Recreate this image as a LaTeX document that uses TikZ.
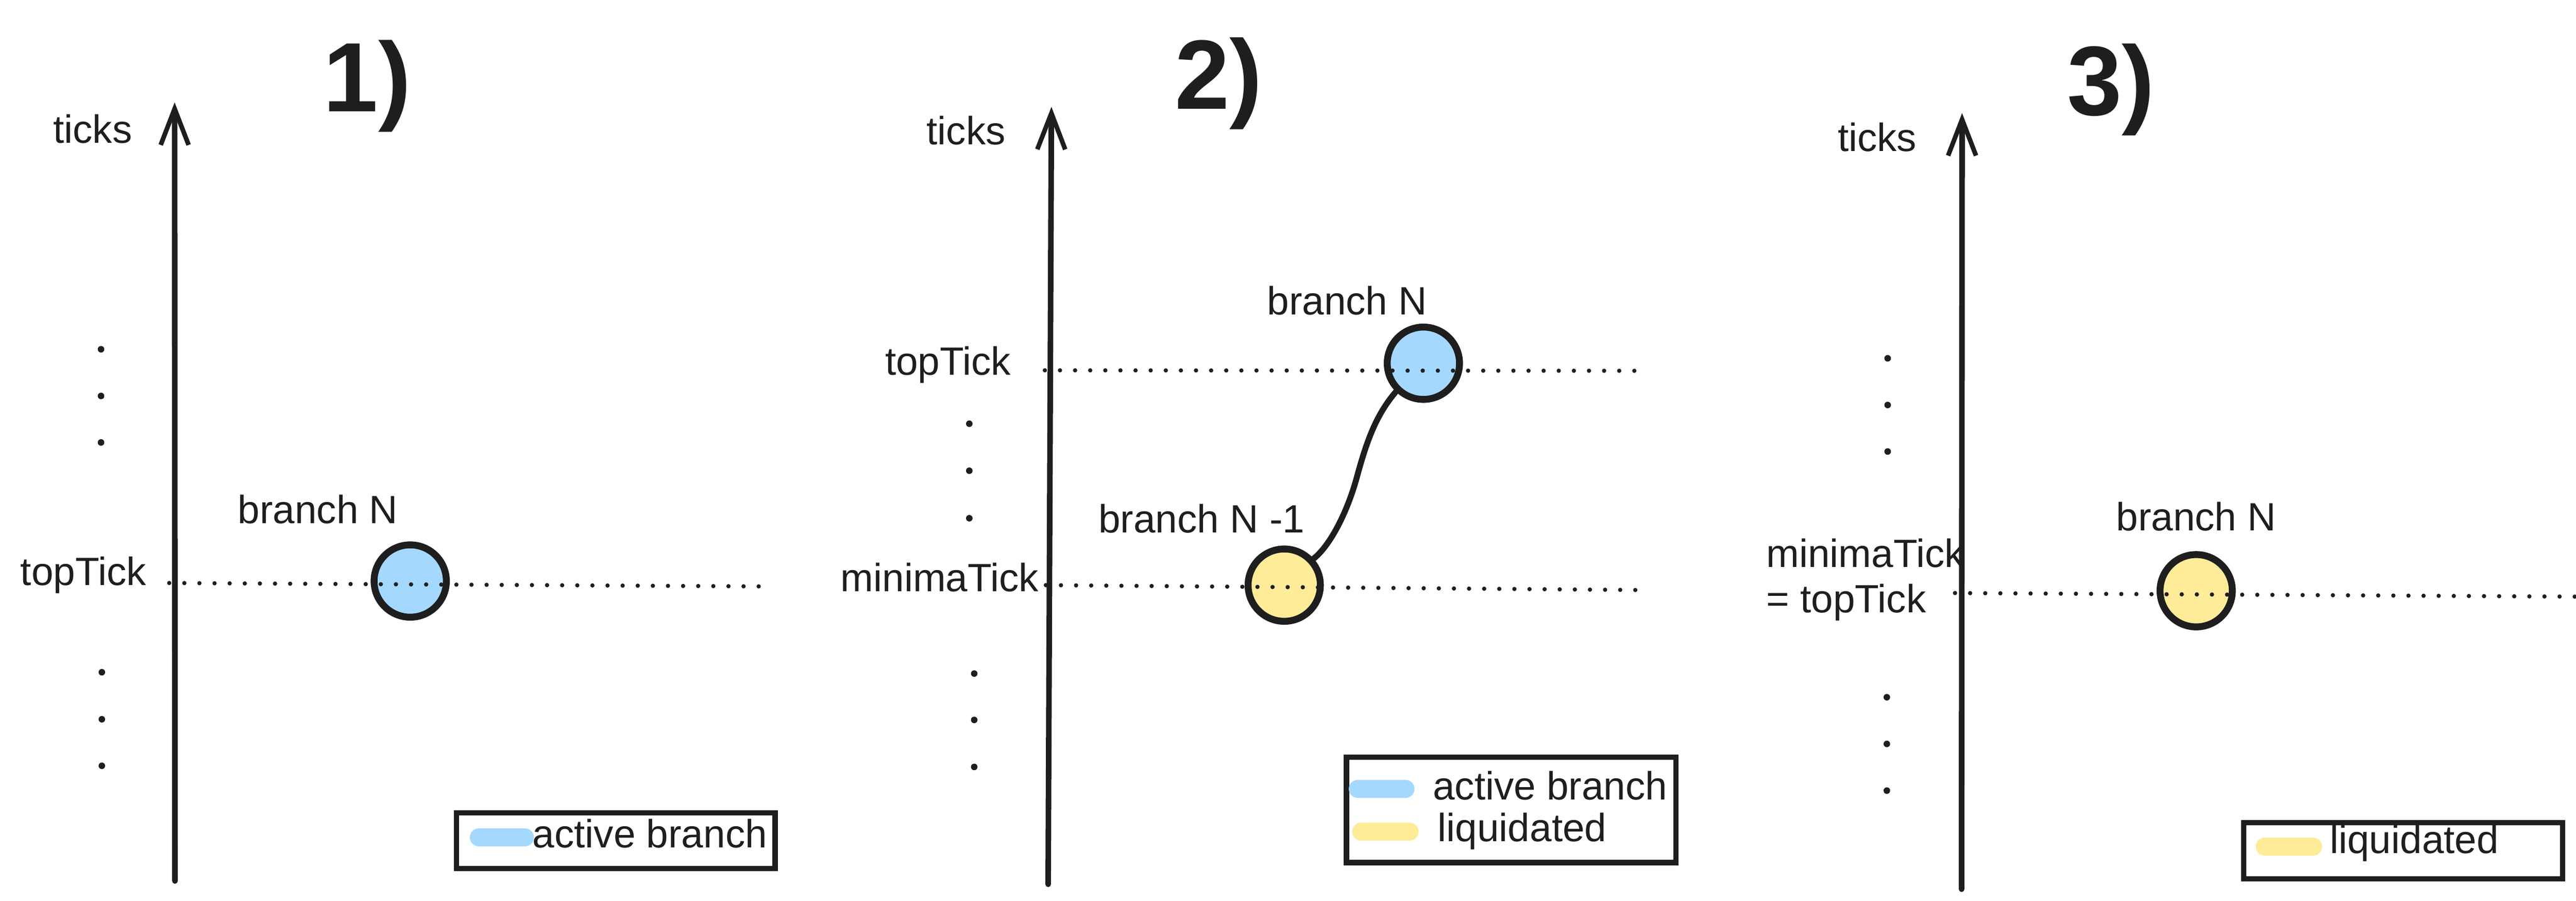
\documentclass[tikz,border=0pt]{standalone}
\usepackage{fontspec}
\setmainfont{Liberation Sans}
\usetikzlibrary{arrows.meta}
\definecolor{ink}{HTML}{1E1E1E}
\definecolor{bluefill}{HTML}{A5D8FF}
\definecolor{yellowfill}{HTML}{FFEC99}
\begin{document}
\begin{tikzpicture}[x=1pt,y=-1pt,
  lbl/.style={font=\fontsize{24}{28}\selectfont, text=ink, inner sep=0pt, anchor=base},
  ttl/.style={font=\fontsize{60}{70}\selectfont\bfseries, text=ink, inner sep=0pt, anchor=base},
  axisline/.style={draw=ink, line width=3.4pt, line cap=round, -{Straight Barb[length=22pt,width=17pt,line width=2.8pt]}},
  dotline/.style={draw=ink, line width=2.6pt, line cap=round, dash pattern=on 0pt off 9.2pt},
  edot/.style={circle, fill=ink, inner sep=0pt, minimum size=4pt},
  branchb/.style={circle, draw=ink, line width=4.2pt, fill=bluefill, inner sep=0pt, minimum size=44pt},
  branchy/.style={circle, draw=ink, line width=4.2pt, fill=yellowfill, inner sep=0pt, minimum size=44pt},
  legbox/.style={rectangle, draw=ink, line width=3.2pt, inner sep=0pt},
  swatch/.style={line width=11pt, line cap=round},
  link/.style={draw=ink, line width=3.6pt, line cap=round}
]
\useasboundingbox (0,0) rectangle (1568,548.1);

% ---------------- Panel 1 ----------------
\node[ttl] (t1) at (223.5,68) {1)};
\coordinate (a1b) at (106.5,536);
\coordinate (a1t) at (106.3,62.3);
\draw[axisline] (a1b) -- (a1t);
\node[lbl] (ticks1) at (56.4,87) {ticks};
\node[edot] (d1a) at (61.5,212.5) {};
\node[edot] (d1b) at (61.5,240.9) {};
\node[edot] (d1c) at (61.5,269.2) {};
\node[edot] (d1d) at (62,409) {};
\node[edot] (d1e) at (62,437.6) {};
\node[edot] (d1f) at (62,465.9) {};
\node[lbl] (top1) at (50.7,356) {topTick};
\node[branchb] (b1) at (249.7,353.5) {};
\node[lbl] (b1l) at (193.5,318.5) {branch N};
\coordinate (l1a) at (103,354.7);
\coordinate (l1b) at (469,356.8);
\draw[dotline] (l1a) -- (l1b);
\node[legbox, minimum width=194pt, minimum height=33.8pt] (lg1) at (374.8,511.5) {};
\coordinate (s1a) at (291.5,509.5);
\coordinate (s1b) at (319.5,509.5);
\draw[swatch, bluefill] (s1a) -- (s1b);
\node[lbl, anchor=base west] (lg1t) at (324,515.7) {active branch};

% ---------------- Panel 2 ----------------
\node[ttl] (t2) at (741.7,66.2) {2)};
\coordinate (a2b) at (638,538);
\coordinate (a2t) at (640,65);
\draw[axisline] (a2b) -- (a2t);
\node[lbl] (ticks2) at (588,88) {ticks};
\node[edot] (d2a) at (590,257.8) {};
\node[edot] (d2b) at (590,286.4) {};
\node[edot] (d2c) at (590,315.3) {};
\node[edot] (d2d) at (593,409.8) {};
\node[edot] (d2e) at (593,438) {};
\node[edot] (d2f) at (593,466.6) {};
\node[lbl] (top2) at (577,228) {topTick};
\node[lbl] (min2) at (572,360) {minimaTick};
\node[branchb] (b2) at (866.4,221) {};
\node[branchy] (y2) at (781.7,356) {};
\node[lbl] (b2l) at (820,191.5) {branch N};
\node[lbl] (y2l) at (731.4,324) {branch N -1};
\coordinate (l2a) at (636,225.3);
\coordinate (l2b) at (995,225.6);
\draw[dotline] (l2a) -- (l2b);
\coordinate (l2c) at (636.6,356);
\coordinate (l2d) at (1001,359);
\draw[dotline] (l2c) -- (l2d);
\coordinate (m2) at (826,290);
\draw[link] (y2.42) .. controls +(10,-8) and +(-6,22) .. (m2)
                    .. controls +(6,-22) and +(-12,14) .. (b2.226);
\node[legbox, minimum width=200.6pt, minimum height=64.2pt] (lg2) at (919.9,492.7) {};
\coordinate (s2a) at (826.5,480);
\coordinate (s2b) at (855.5,480);
\draw[swatch, bluefill] (s2a) -- (s2b);
\coordinate (s2c) at (828.5,506);
\coordinate (s2d) at (858,506);
\draw[swatch, yellowfill] (s2c) -- (s2d);
\node[lbl, anchor=base west] (lg2t) at (872,486.7) {active branch};
\node[lbl, anchor=base west] (lg2u) at (875,512) {liquidated};

% ---------------- Panel 3 ----------------
\node[ttl] (t3) at (1285,70.2) {3)};
\coordinate (a3b) at (1194,541);
\coordinate (a3t) at (1194.3,68.8);
\draw[axisline] (a3b) -- (a3t);
\node[lbl] (ticks3) at (1142.6,92) {ticks};
\node[edot] (d3a) at (1149,218) {};
\node[edot] (d3b) at (1149,246.4) {};
\node[edot] (d3c) at (1149,274.7) {};
\node[edot] (d3d) at (1148.5,424.2) {};
\node[edot] (d3e) at (1148.5,452.6) {};
\node[edot] (d3f) at (1148.5,481) {};
\node[lbl, anchor=base west] (min3) at (1075,345) {minimaTick};
\node[lbl, anchor=base west] (top3) at (1075,372.7) {= topTick};
\node[branchy] (y3) at (1336.8,359.4) {};
\node[lbl] (y3l) at (1336.8,323) {branch N};
\coordinate (l3a) at (1190,360.8);
\coordinate (l3b) at (1568,363);
\draw[dotline] (l3a) -- (l3b);
\node[legbox, minimum width=194.3pt, minimum height=34.4pt] (lg3) at (1462.75,517.6) {};
\coordinate (s3a) at (1378.5,515);
\coordinate (s3b) at (1408,515);
\draw[swatch, yellowfill] (s3a) -- (s3b);
\node[lbl, anchor=base west] (lg3t) at (1418,519.2) {liquidated};
\end{tikzpicture}
\end{document}
